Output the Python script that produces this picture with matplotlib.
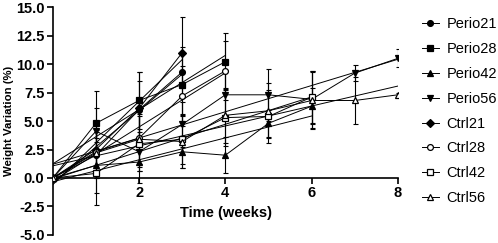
import numpy as np
import matplotlib
matplotlib.use("Agg")
import matplotlib.pyplot as plt

plt.rcParams['font.family'] = ['Liberation Sans', 'DejaVu Sans']

labels = ["Perio21", "Perio28", "Perio42", "Perio56", "Ctrl21", "Ctrl28", "Ctrl42", "Ctrl56"]
markers = ["o", "s", "^", "v", "D", "o", "s", "^"]
filled = [True, True, True, True, True, False, False, False]

weeks_21 = [0, 1, 2, 3]
weeks_28 = [0, 1, 2, 3, 4]
weeks_42 = [0, 1, 2, 3, 4, 5, 6]
weeks_56 = [0, 1, 2, 3, 4, 5, 6, 7, 8]

perio21 = [0.0, 2.0, 6.0, 9.3]
perio28 = [0.0, 4.8, 6.8, 8.2, 10.2]
perio42 = [0.0, 1.1, 1.4, 2.3, 2.0, 4.8, 6.3]
perio56 = [0.0, 4.1, 2.3, 4.7, 7.3, 7.3, 6.9, 9.2, 10.5]
ctrl21 = [0.0, 2.5, 6.1, 11.0]
ctrl28 = [0.0, 2.3, 3.5, 7.2, 9.4]
ctrl42 = [0.0, 0.4, 3.0, 3.4, 5.3, 5.4, 7.1]
ctrl56 = [0.0, 2.2, 3.4, 3.2, 5.5, 5.9, 6.8, 6.8, 7.3]

err_perio21 = [0.0, 2.0, 2.5, 2.2]
err_perio28 = [0.0, 2.8, 2.5, 2.8, 2.5]
err_perio42 = [0.0, 2.4, 1.8, 1.4, 1.6, 1.2, 1.6]
err_perio56 = [0.0, 2.0, 1.7, 2.0, 2.2, 2.3, 2.5, 0.7, 0.8]
err_ctrl21 = [0.0, 2.5, 3.2, 3.1]
err_ctrl28 = [0.0, 2.0, 2.5, 2.6, 2.6]
err_ctrl42 = [0.0, 2.8, 2.4, 2.2, 2.5, 2.3, 2.3]
err_ctrl56 = [0.0, 2.0, 2.2, 2.3, 2.4, 2.4, 2.5, 2.1, 0.2]

series = [
    (weeks_21, perio21, err_perio21),
    (weeks_28, perio28, err_perio28),
    (weeks_42, perio42, err_perio42),
    (weeks_56, perio56, err_perio56),
    (weeks_21, ctrl21, err_ctrl21),
    (weeks_28, ctrl28, err_ctrl28),
    (weeks_42, ctrl42, err_ctrl42),
    (weeks_56, ctrl56, err_ctrl56),
]

fig = plt.figure(figsize=(4.98, 2.43), dpi=100)
ax = fig.add_axes([0.106, 0.033, 0.693, 0.938])

handles = []
for (x, y, e), lab, m, f in zip(series, labels, markers, filled):
    x = np.array(x, float)
    y = np.array(y, float)
    ax.errorbar(x, y, yerr=e, fmt='none', ecolor='black', elinewidth=0.8,
                capsize=1.8, capthick=0.8, zorder=2)
    # linear fit line
    p = np.polyfit(x, y, 1)
    xx = np.array([0, x.max()])
    ax.plot(xx, np.polyval(p, xx), color='black', lw=0.7, zorder=2)
    h, = ax.plot(x, y, color='black', lw=0.7, marker=m, ms=4.2 if m != 'D' else 3.6,
                 markerfacecolor='black' if f else 'white', markeredgecolor='black',
                 markeredgewidth=0.9, zorder=3, label=lab)
    handles.append(h)

ax.set_xlim(0, 8.0)
ax.set_ylim(-5, 15)
ax.spines['top'].set_visible(False)
ax.spines['right'].set_visible(False)
ax.spines['bottom'].set_position(('data', 0))
ax.spines['left'].set_linewidth(1.2)
ax.spines['bottom'].set_linewidth(1.2)
ax.set_xticks([2, 4, 6, 8])
ax.set_yticks(np.arange(-5, 15.1, 2.5))
ax.set_yticklabels([f"{v:.1f}" for v in np.arange(-5, 15.1, 2.5)])
ax.tick_params(axis='both', labelsize=10.5, width=1.2, length=4, pad=2)
for t in ax.get_xticklabels() + ax.get_yticklabels():
    t.set_fontweight('bold')

ax.set_ylabel("Weight Variation (%)", fontsize=8.2, fontweight='bold', labelpad=1)
fig.text(0.454, 0.123, "Time (weeks)", fontsize=10.5, fontweight='bold', ha='center', va='center')

fig.legend(handles=handles, labels=labels, loc='upper left', bbox_to_anchor=(0.835, 0.952),
           frameon=False, fontsize=10.5, handlelength=1.2, handletextpad=0.5,
           labelspacing=0.74, borderaxespad=0)

fig.savefig("out.png", dpi=100)
